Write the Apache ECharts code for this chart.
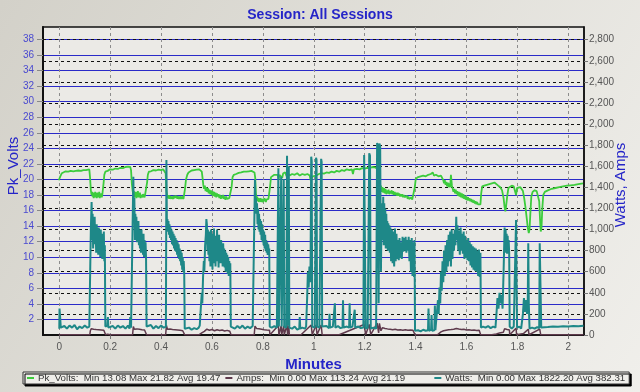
<!DOCTYPE html>
<html><head><meta charset="utf-8">
<script src="https://cdn.jsdelivr.net/npm/echarts@6/dist/echarts.min.js"></script>
<style>html,body{margin:0;padding:0;background:#e2e1dc;}#c{width:640px;height:392px;}</style>
</head><body><div id="c"></div>
<script>
// ---- data ----
const xTicks = [0,0.2,0.4,0.6,0.8,1,1.2,1.4,1.6,1.8,2];
const voltTicks = [2,4,6,8,10,12,14,16,18,20,22,24,26,28,30,32,34,36,38];
const powerTicks = [0,200,400,600,800,1000,1200,1400,1600,1800,2000,2200,2400,2600,2800];
const seriesNames = ['Pk_Volts','Amps','Watts'];
const legendTexts = ['Pk_Volts:  Min 13.08 Max 21.82 Avg 19.47','Amps:  Min 0.00 Max 113.24 Avg 21.19         ','Watts:  Min 0.00 Max 1822.20 Avg 382.31'];

const pkVolts = [[-0.002,19.9],[0.004,20.4],[0.010,20.8],[0.016,21.0],[0.025,21.05],[0.035,21.0],[0.045,21.1],[0.055,21.05],[0.065,21.1],[0.075,21.15],[0.085,21.1],[0.095,21.2],[0.105,21.2],[0.112,21.35],[0.118,21.3],
[0.121,20.2],[0.124,18.6],[0.127,18.0],[0.129,18.4],[0.131,17.8],[0.133,18.3],[0.135,17.6],[0.137,18.2],[0.139,17.7],[0.141,18.4],[0.143,17.8],[0.145,18.1],[0.147,17.6],[0.149,18.3],[0.151,17.7],[0.153,18.2],[0.155,17.9],[0.157,18.4],[0.159,17.6],[0.161,18.1],[0.163,17.8],[0.165,18.2],[0.167,17.7],[0.169,18.0],[0.171,17.8],
[0.174,19.5],[0.177,20.6],[0.181,21.0],[0.19,21.1],[0.20,21.3],[0.21,21.25],[0.22,21.4],[0.23,21.35],[0.24,21.5],[0.25,21.45],[0.26,21.6],[0.265,21.5],[0.27,21.65],[0.275,21.5],[0.279,21.6],[0.282,21.2],
[0.285,19.5],[0.288,18.6],[0.291,18.0],[0.293,18.5],[0.295,17.7],[0.297,18.3],[0.299,17.8],[0.301,18.4],[0.303,17.6],[0.305,18.2],[0.307,17.9],[0.309,18.5],[0.311,17.7],[0.313,18.1],[0.315,17.8],[0.317,18.3],[0.319,17.6],[0.321,18.0],[0.323,17.8],[0.325,18.2],[0.327,17.7],[0.329,18.1],[0.331,17.9],[0.333,18.3],[0.335,17.7],[0.337,18.0],[0.339,17.8],[0.342,18.1],
[0.345,19.6],[0.348,20.6],[0.352,21.0],[0.36,21.05],[0.37,21.2],[0.38,21.15],[0.39,21.25],[0.40,21.2],[0.408,21.3],[0.414,21.25],[0.418,20.8],
[0.421,18.6],[0.424,17.9],[0.426,18.1],[0.428,17.6],[0.430,18.0],[0.432,17.5],[0.434,17.9],[0.436,17.7],[0.438,18.0],[0.440,17.5],[0.442,17.8],[0.444,17.6],[0.446,18.0],[0.448,17.5],[0.450,17.9],[0.452,17.6],[0.454,17.8],[0.456,17.5],[0.458,17.9],[0.460,17.6],[0.462,17.9],[0.464,17.5],[0.466,17.8],[0.468,17.6],[0.470,17.9],[0.472,17.5],[0.474,17.8],[0.476,17.6],[0.478,17.9],[0.480,17.5],[0.482,17.8],[0.484,17.6],[0.486,17.8],[0.488,17.5],[0.491,17.7],
[0.494,18.8],[0.498,20.0],[0.503,20.6],[0.508,20.9],[0.514,21.0],[0.52,21.15],[0.53,21.2],[0.54,21.25],[0.55,21.3],[0.556,21.3],[0.560,21.0],
[0.563,20.2],[0.566,19.3],[0.569,18.8],[0.572,19.2],[0.575,18.5],[0.578,19.0],[0.581,18.4],[0.584,18.9],[0.587,18.2],[0.590,18.7],[0.593,18.1],[0.596,18.6],[0.599,18.0],[0.602,18.5],[0.605,17.9],[0.608,18.4],[0.611,17.8],[0.614,18.3],[0.617,17.7],[0.620,18.2],[0.623,17.8],[0.626,18.1],[0.629,17.6],[0.632,18.0],[0.635,17.5],[0.638,17.9],[0.641,17.6],[0.644,18.0],[0.647,17.5],[0.650,17.8],[0.653,17.4],[0.656,17.8],[0.659,17.5],[0.662,17.7],[0.665,17.3],[0.668,17.6],[0.671,17.4],[0.674,17.6],
[0.677,19.0],[0.681,20.3],[0.686,20.6],[0.695,20.7],[0.705,20.85],[0.715,20.9],[0.725,21.0],[0.735,21.0],[0.745,21.05],[0.755,21.1],[0.762,21.0],[0.767,20.9],[0.770,20.2],
[0.773,18.0],[0.776,17.4],[0.778,17.8],[0.780,17.2],[0.782,17.6],[0.784,17.1],[0.786,17.5],[0.788,17.2],[0.790,17.6],[0.792,17.1],[0.794,17.5],[0.796,17.3],[0.798,17.7],[0.800,17.1],[0.802,17.5],[0.804,17.2],[0.806,17.6],[0.808,17.2],[0.810,17.5],[0.812,17.1],[0.814,17.4],[0.816,17.2],[0.818,17.6],[0.820,17.2],[0.822,17.5],[0.825,17.3],
[0.828,19.0],[0.832,20.3],[0.838,20.5],[0.845,20.6],[0.852,20.7],[0.858,20.6],[0.862,20.0],[0.865,20.6],[0.872,20.7],[0.876,20.2],[0.880,20.8],[0.888,20.9],[0.893,20.4],[0.897,20.9],[0.905,20.5],[0.915,20.7],[0.925,20.6],[0.935,20.8],[0.945,20.5],[0.955,20.7],[0.965,20.6],[0.975,20.7],[0.984,20.5],[0.988,19.9],[0.992,19.7],[0.996,20.4],[1.003,20.6],[1.010,20.5],[1.02,20.7],[1.03,20.8],[1.04,20.75],[1.05,20.9],[1.06,20.85],[1.07,21.0],[1.08,20.9],[1.09,21.1],[1.10,21.0],[1.11,21.2],[1.12,21.1],[1.13,21.3],[1.14,21.2],[1.15,21.3],[1.154,20.7],[1.158,21.3],[1.17,21.35],[1.18,21.3],[1.19,21.45],[1.20,21.4],[1.21,21.5],[1.22,21.45],[1.23,21.6],[1.24,21.55],[1.246,21.7],[1.249,21.4],
[1.252,19.8],[1.255,19.0],[1.258,19.4],[1.261,18.6],[1.264,19.2],[1.267,18.4],[1.270,19.0],[1.273,18.3],[1.276,18.9],[1.279,18.2],[1.282,18.8],[1.285,18.1],[1.288,18.6],[1.291,18.2],[1.294,18.7],[1.297,18.1],[1.30,18.5],[1.303,18.2],[1.306,18.6],[1.309,18.1],[1.312,18.5],[1.315,18.0],[1.318,18.4],[1.321,18.0],[1.324,18.3],[1.327,17.9],[1.330,18.3],[1.333,17.9],[1.336,18.2],[1.339,17.8],[1.342,18.1],[1.345,17.8],[1.348,18.1],[1.351,17.7],[1.354,18.0],[1.357,17.7],[1.360,17.9],[1.363,17.6],[1.366,17.9],[1.369,17.5],[1.372,17.8],[1.375,17.5],[1.378,17.7],[1.381,17.4],[1.384,17.7],[1.387,17.4],[1.390,17.6],[1.394,17.4],
[1.397,19.0],[1.401,20.1],[1.41,20.3],[1.42,20.4],[1.43,20.5],[1.44,20.4],[1.45,20.6],[1.455,20.4],[1.46,20.7],[1.468,20.9],[1.472,20.5],[1.48,20.6],[1.49,20.4],[1.50,20.5],[1.506,20.3],
[1.509,19.9],[1.512,19.5],[1.515,19.9],[1.518,19.3],[1.521,19.7],[1.524,19.1],[1.527,19.6],[1.530,19.0],[1.533,19.5],[1.536,19.0],[1.539,20.6],[1.541,20.7],[1.543,19.2],[1.546,18.8],
[1.549,18.4],[1.552,18.8],[1.555,18.2],[1.558,18.7],[1.561,18.1],[1.564,18.5],[1.567,17.9],[1.570,18.4],[1.573,17.8],[1.576,18.3],[1.579,17.7],[1.582,18.2],[1.585,17.6],[1.588,18.1],[1.591,17.5],[1.594,17.9],[1.597,17.4],[1.600,17.8],[1.603,17.3],[1.606,17.7],[1.609,17.3],[1.612,17.6],[1.615,17.2],[1.618,17.5],[1.621,17.1],[1.624,17.4],[1.627,17.0],[1.630,17.3],[1.633,16.9],[1.636,17.2],[1.639,16.8],[1.642,17.1],[1.645,16.8],[1.648,17.0],[1.651,16.6],[1.655,16.8],
[1.658,18.2],[1.662,19.1],[1.67,19.2],[1.68,19.3],[1.69,19.4],[1.70,19.5],[1.71,19.6],[1.717,19.5],[1.725,19.2],[1.733,19.0],[1.740,18.6],[1.746,17.6],[1.750,16.4],[1.753,15.9],[1.756,16.6],[1.760,17.8],[1.765,18.9],[1.770,19.1],[1.778,19.2],[1.786,19.1],[1.791,18.9],[1.795,18.0],[1.799,18.9],[1.806,19.1],[1.812,19.0],[1.818,18.9],[1.822,18.5],[1.827,17.6],[1.832,16.4],[1.837,15.0],[1.841,13.8],[1.845,13.1],[1.848,13.6],[1.851,15.5],[1.855,17.8],[1.860,18.4],[1.868,18.6],[1.876,18.5],[1.882,18.4],[1.886,17.2],[1.889,15.0],[1.892,13.3],[1.895,13.8],[1.898,16.2],[1.902,18.0],[1.908,18.4],[1.92,18.6],[1.935,18.8],[1.95,18.9],[1.965,19.0],[1.98,19.1],[1.995,19.2],[2.01,19.25],[2.025,19.3],[2.04,19.4],[2.058,19.5]];

const amps = [[-0.002,0],[0.0,8],[0.004,8],[0.006,2],[0.05,3],[0.10,2],[0.12,3],
[0.122,40],[0.126,60],[0.13,45],[0.135,55],[0.14,42],[0.145,52],[0.15,40],[0.155,50],[0.16,38],[0.165,48],[0.17,36],[0.175,45],[0.18,40],[0.182,2],
[0.19,8],[0.2,2],[0.25,3],[0.288,2],
[0.291,80],[0.295,55],[0.30,45],[0.305,58],[0.31,44],[0.315,54],[0.32,42],[0.325,50],[0.33,40],[0.335,48],[0.34,38],[0.343,2],
[0.38,3],[0.418,2],
[0.421,90],[0.425,55],[0.43,50],[0.435,56],[0.44,46],[0.445,52],[0.45,44],[0.455,50],[0.46,42],[0.465,48],[0.47,40],[0.475,45],[0.48,36],[0.485,40],[0.49,33],[0.493,2],
[0.52,2],[0.55,3],
[0.56,20],[0.57,35],[0.58,55],[0.59,45],[0.60,52],[0.61,40],[0.62,50],[0.63,42],[0.64,48],[0.65,38],[0.66,44],[0.67,35],[0.675,2],
[0.72,3],[0.766,2],
[0.769,85],[0.775,62],[0.78,70],[0.785,60],[0.79,64],[0.795,55],[0.80,60],[0.805,50],[0.81,55],[0.815,48],[0.82,52],[0.826,46],[0.828,2],
[0.861,90],[0.863,3],[0.872,85],[0.874,3],[0.882,85],[0.884,3],[0.895,95],[0.897,3],[0.902,90],[0.904,3],
[0.95,3],[0.99,95],[0.994,3],[1.009,95],[1.013,3],[1.029,95],[1.033,3],[1.1,3],[1.198,100],[1.204,3],[1.218,100],[1.224,3],[1.249,113],[1.255,20],[1.258,110],[1.264,40],
[1.27,70],[1.28,62],[1.29,58],[1.30,55],[1.31,50],[1.32,54],[1.33,48],[1.34,50],[1.35,46],[1.36,50],[1.37,46],[1.38,48],[1.39,44],[1.397,46],[1.398,2],
[1.45,3],[1.487,3],
[1.49,15],[1.50,30],[1.51,40],[1.52,45],[1.53,50],[1.54,52],[1.55,55],[1.56,62],[1.57,56],[1.58,52],[1.59,54],[1.60,48],[1.61,50],[1.62,45],[1.63,47],[1.64,42],[1.65,44],[1.656,2],
[1.70,3],[1.718,10],[1.73,20],[1.745,25],[1.75,60],[1.76,52],[1.769,48],[1.77,2],[1.795,65],[1.797,2],[1.825,15],[1.843,55],[1.846,2],[1.888,55],[1.892,2],[1.95,3],[2.06,3]];

const watts = [[0,60],[0.001,250],[0.004,240],[0.006,70],[0.02,85],[0.03,60],[0.04,90],[0.05,70],[0.06,95],[0.07,55],[0.08,80],[0.09,65],[0.10,90],[0.11,70],[0.118,80],
[0.121,80],[0.124,1000],[0.127,1260],[0.129,900],[0.131,1150],[0.133,820],[0.135,1080],[0.137,950],[0.139,1120],[0.141,860],[0.143,1000],[0.145,780],[0.147,1050],[0.149,830],[0.151,980],[0.153,760],[0.155,1020],[0.157,800],[0.159,950],[0.161,740],[0.163,1000],[0.165,820],[0.167,960],[0.169,720],[0.171,900],[0.173,760],[0.175,980],[0.177,700],[0.179,850],[0.181,80],
[0.185,70],[0.189,90],[0.191,170],[0.193,70],[0.21,85],[0.22,60],[0.23,90],[0.24,70],[0.25,85],[0.26,60],[0.27,90],[0.276,60],[0.279,170],[0.282,70],[0.286,80],
[0.289,80],[0.291,1500],[0.293,1100],[0.295,1300],[0.297,900],[0.299,1150],[0.301,950],[0.303,1120],[0.305,880],[0.307,1050],[0.309,930],[0.311,1080],[0.313,850],[0.315,1000],[0.317,820],[0.319,980],[0.321,780],[0.323,1000],[0.325,800],[0.327,940],[0.329,760],[0.331,960],[0.333,740],[0.335,900],[0.337,760],[0.339,880],[0.341,720],[0.343,80],
[0.35,70],[0.36,95],[0.37,60],[0.38,85],[0.39,65],[0.40,90],[0.41,70],[0.416,80],
[0.419,80],[0.421,1660],[0.423,1000],[0.425,1100],[0.427,980],[0.429,1080],[0.431,950],[0.433,1050],[0.435,920],[0.437,1020],[0.439,900],[0.441,1000],[0.443,860],[0.445,980],[0.447,850],[0.449,960],[0.451,820],[0.453,940],[0.455,800],[0.457,920],[0.459,790],[0.461,900],[0.463,760],[0.465,880],[0.467,740],[0.469,860],[0.471,720],[0.473,820],[0.475,700],[0.477,800],[0.479,660],[0.481,780],[0.483,620],[0.485,740],[0.487,600],[0.489,700],[0.491,580],[0.493,60],
[0.50,55],[0.51,70],[0.52,50],[0.53,65],[0.54,55],[0.548,70],
[0.552,90],[0.556,250],[0.560,400],[0.562,300],[0.565,550],[0.568,700],[0.570,600],[0.573,850],[0.576,950],[0.578,1100],
[0.580,1050],[0.582,800],[0.584,1000],[0.586,760],[0.588,980],[0.590,700],[0.592,950],[0.594,650],[0.596,1000],[0.598,720],[0.600,960],[0.602,620],[0.604,900],[0.606,680],[0.608,1010],[0.610,700],[0.612,940],[0.614,650],[0.616,900],[0.618,740],[0.620,1000],[0.622,700],[0.624,880],[0.626,640],[0.628,950],[0.630,720],[0.632,860],[0.634,680],[0.636,900],[0.638,760],[0.640,840],[0.642,650],[0.644,870],[0.646,700],[0.648,820],[0.650,640],[0.652,800],[0.654,600],[0.656,780],[0.658,640],[0.660,760],[0.662,580],[0.664,740],[0.666,560],[0.668,700],[0.670,600],[0.672,680],[0.674,80],
[0.68,75],[0.69,60],[0.70,85],[0.71,65],[0.72,90],[0.73,60],[0.74,80],[0.75,65],[0.76,85],[0.765,70],
[0.767,80],[0.769,1470],[0.771,1200],[0.773,1300],[0.775,1150],[0.777,1250],[0.779,1050],[0.781,1200],[0.783,1000],[0.785,1150],[0.787,980],[0.789,1100],[0.791,950],[0.793,1080],[0.795,900],[0.797,1050],[0.799,880],[0.801,1000],[0.803,850],[0.805,980],[0.807,820],[0.809,950],[0.811,800],[0.813,900],[0.815,780],[0.817,880],[0.819,760],[0.821,860],[0.823,800],[0.825,820],[0.827,80],
[0.835,70],[0.845,85],[0.855,70],[0.859,80],[0.861,1580],[0.863,80],[0.870,70],[0.872,1500],[0.874,80],[0.880,70],[0.882,1480],[0.884,80],[0.892,70],[0.895,1700],[0.897,90],[0.900,80],[0.902,1600],[0.904,70],
[0.915,60],[0.925,80],[0.935,50],[0.943,60],[0.945,170],[0.947,60],[0.955,70],[0.965,60],[0.970,80],[0.974,350],[0.977,600],[0.980,450],[0.983,650],[0.987,500],[0.990,1690],[0.992,1650],[0.994,80],[1.004,70],[1.009,1680],[1.011,1660],[1.013,80],[1.022,70],[1.029,1670],[1.031,1640],[1.033,80],
[1.04,70],[1.05,85],[1.06,65],[1.062,200],[1.064,70],[1.075,80],[1.081,70],[1.083,300],[1.085,70],[1.095,85],[1.105,65],[1.113,70],[1.115,330],[1.117,70],[1.13,80],[1.139,70],[1.141,300],[1.143,70],[1.152,80],[1.159,70],[1.161,240],[1.163,70],[1.175,80],[1.185,65],[1.195,70],[1.198,1706],[1.201,1690],[1.204,60],[1.212,70],[1.218,1722],[1.221,1700],[1.224,60],[1.235,70],[1.245,60],[1.249,1820],[1.252,1800],[1.255,300],[1.258,1815],[1.261,1790],[1.264,600],[1.267,1250],[1.270,900],
[1.273,1310],[1.275,850],[1.277,1250],[1.279,880],[1.281,1200],[1.283,820],[1.285,1150],[1.287,900],[1.289,1080],[1.291,800],[1.293,1060],[1.295,820],[1.297,1040],[1.299,780],[1.301,1020],[1.304,700],[1.307,1000],[1.310,680],[1.313,980],[1.316,650],[1.319,1010],[1.322,700],[1.325,960],[1.328,720],[1.331,900],[1.334,710],[1.337,920],[1.340,730],[1.343,880],[1.346,720],[1.349,930],[1.352,790],[1.355,920],[1.358,800],[1.361,930],[1.364,780],[1.367,900],[1.370,800],[1.373,930],[1.376,700],[1.379,900],[1.382,600],[1.385,920],[1.388,560],[1.391,880],[1.394,550],[1.396,900],[1.398,40],
[1.41,45],[1.42,35],[1.43,50],[1.44,40],[1.449,45],[1.451,250],[1.453,40],[1.461,50],[1.463,190],[1.465,40],[1.474,45],[1.476,280],[1.478,45],[1.485,50],
[1.488,330],[1.491,200],[1.494,450],[1.497,300],[1.500,600],[1.503,420],[1.506,700],[1.509,500],[1.512,800],[1.515,560],[1.518,850],[1.521,600],[1.524,900],[1.527,650],[1.530,950],[1.533,700],[1.536,980],[1.539,650],[1.542,1000],[1.545,720],[1.548,960],[1.551,800],[1.554,1000],[1.557,850],[1.560,1120],[1.562,900],[1.565,1040],[1.568,800],[1.571,990],[1.574,760],[1.577,1020],[1.580,800],[1.583,960],[1.586,770],[1.589,980],[1.592,720],[1.595,940],[1.598,730],[1.601,900],[1.604,710],[1.607,920],[1.610,700],[1.613,880],[1.616,660],[1.619,860],[1.622,640],[1.625,840],[1.628,620],[1.631,830],[1.634,610],[1.637,820],[1.640,600],[1.643,800],[1.646,560],[1.649,810],[1.652,550],[1.655,780],[1.657,70],
[1.665,80],[1.675,70],[1.685,85],[1.695,65],[1.705,80],[1.714,70],
[1.718,200],[1.722,350],[1.726,250],[1.730,400],[1.734,300],[1.738,380],[1.742,250],[1.746,600],[1.750,1020],[1.752,780],[1.754,1000],[1.756,800],[1.758,960],[1.760,770],[1.762,940],[1.764,790],[1.766,900],[1.768,780],[1.770,80],
[1.778,60],[1.786,80],[1.792,70],[1.795,1090],[1.797,500],[1.799,70],[1.808,80],[1.815,60],[1.822,200],[1.826,350],[1.830,220],[1.834,330],[1.838,200],[1.841,320],[1.843,870],[1.845,300],[1.848,60],[1.858,70],[1.868,60],[1.878,75],[1.886,65],[1.888,870],[1.891,860],[1.894,70],[1.90,80],[1.92,75],[1.94,80],[1.96,78],[1.98,82],[2.00,80],[2.02,85],[2.04,83],[2.06,88]];

// ---- chart ----
const FONT = '"Liberation Sans", Arial, sans-serif';
const BLUE = '#2525c8';
const chart = echarts.init(document.getElementById('c'), null, {renderer: 'canvas'});
const comma = v => String(v).replace(/\B(?=(\d{3})+(?!\d))/g, ',');
const legendMap = {};
seriesNames.forEach((n, i) => legendMap[n] = legendTexts[i]);

chart.setOption({
  animation: false,
  backgroundColor: new echarts.graphic.LinearGradient(0, 0, 1, 1, [
    {offset: 0, color: '#d3d1c9'}, {offset: 1, color: '#f0efeb'}]),
  title: {text: 'Session: All Sessions', left: 'center', top: 3,
    textStyle: {fontFamily: FONT, fontSize: 14, fontWeight: 'bold', color: BLUE}},
  grid: {left: 43, right: 56, top: 27, bottom: 57, show: true,
    backgroundColor: '#ebeae6', borderColor: '#111', borderWidth: 1.5},
  legend: {left: 23, top: 372, data: seriesNames, icon: 'rect', itemWidth: 7, itemHeight: 2,
    itemGap: 5, padding: [1, 4, 1, 4], backgroundColor: '#efeeea', borderColor: '#333', borderWidth: 1,
    shadowColor: '#000', shadowOffsetX: 2, shadowOffsetY: 2, shadowBlur: 0, selectedMode: false,
    textStyle: {fontFamily: FONT, fontSize: 9.7, color: '#333', padding: [0, 0, 0, -1]},
    formatter: n => legendMap[n]},
  xAxis: {type: 'value', min: -0.064, max: 2.062,
    name: 'Minutes', nameLocation: 'middle', nameGap: 21,
    nameTextStyle: {fontFamily: FONT, fontSize: 15, fontWeight: 'bold', color: BLUE},
    axisLine: {show: true, onZero: false, lineStyle: {color: '#111', width: 2}},
    axisTick: {show: true, customValues: xTicks, length: 4, lineStyle: {color: '#777'}},
    axisLabel: {customValues: xTicks, color: '#555', fontFamily: FONT, fontSize: 10, margin: 7,
      formatter: v => String(v)},
    splitLine: {show: true, lineStyle: {color: '#8c8c8c', type: [3, 3], width: 1}}},
  yAxis: [
    {type: 'value', min: 0, max: 39.6, interval: 2, position: 'left',
      axisLine: {show: true, onZero: false, lineStyle: {color: '#111', width: 2}},
      axisTick: {show: true, customValues: voltTicks, length: 6, lineStyle: {color: '#888'}},
      axisLabel: {customValues: voltTicks, color: '#4a4ad0', fontFamily: FONT, fontSize: 10, margin: 9},
      splitLine: {show: true, lineStyle: {color: '#2a2ac8', width: 1}}},
    {type: 'value', min: 0, max: 2920, interval: 200, position: 'right',
      axisLine: {show: true, onZero: false, lineStyle: {color: '#111', width: 1.5}},
      axisTick: {show: true, customValues: powerTicks, length: 4, lineStyle: {color: '#777'}},
      axisLabel: {customValues: powerTicks, color: '#555', fontFamily: FONT, fontSize: 10, margin: 5,
        formatter: v => comma(v)},
      splitLine: {show: true, lineStyle: {color: '#111', width: 1, type: [3, 3]}}}
  ],
  graphic: [
    {type: 'text', x: 14, y: 166, rotation: Math.PI / 2,
      style: {text: 'Pk_Volts', font: '15px "Liberation Sans", Arial, sans-serif', fill: BLUE,
        align: 'center', verticalAlign: 'middle'}},
    {type: 'text', x: 621, y: 185, rotation: Math.PI / 2,
      style: {text: 'Watts, Amps', font: '15px "Liberation Sans", Arial, sans-serif', fill: BLUE,
        align: 'center', verticalAlign: 'middle'}}
  ],
  series: [
    {name: 'Pk_Volts', type: 'line', yAxisIndex: 0, data: pkVolts, symbol: 'none',
      lineStyle: {color: '#3ccc3c', width: 1.8}, itemStyle: {color: '#3ccc3c'}},
    {name: 'Amps', type: 'line', yAxisIndex: 1, data: amps, symbol: 'none',
      lineStyle: {color: '#5e3a4c', width: 1.5}, itemStyle: {color: '#5e3a4c'}},
    {name: 'Watts', type: 'line', yAxisIndex: 1, data: watts, symbol: 'none',
      lineStyle: {color: '#1e8888', width: 2}, itemStyle: {color: '#1e8888'}}
  ]
});
</script></body></html>
